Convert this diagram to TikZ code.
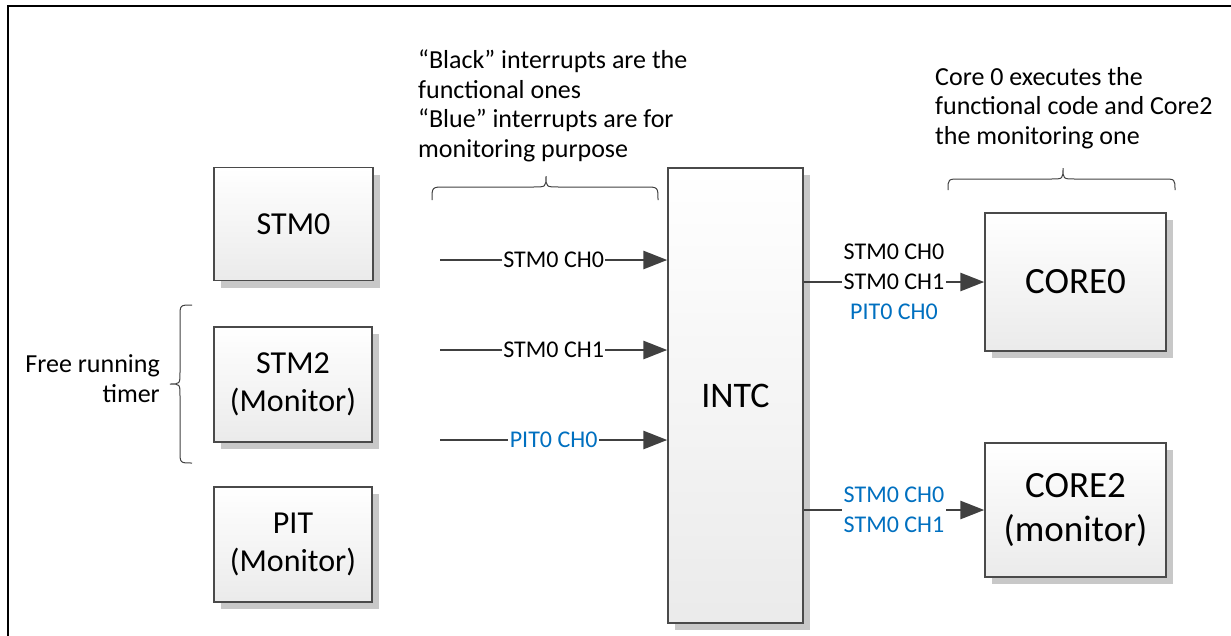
\documentclass[tikz,border=0pt]{standalone}
\usepackage{fontspec}
\setmainfont{Carlito}
\usetikzlibrary{arrows.meta,shadows}
\definecolor{lineg}{HTML}{404040}
\definecolor{boxb}{HTML}{4A4A4A}
\definecolor{blu}{HTML}{0070C0}
\definecolor{shad}{HTML}{C8C8C8}
\tikzset{
  blk/.style={draw=boxb, line width=1.4pt, top color=white, bottom color=black!8,
    inner sep=0pt, align=center,
    drop shadow={shadow xshift=7pt, shadow yshift=-7pt, fill=shad, opacity=1}},
  arr/.style={draw=lineg, line width=2.8pt, -{Triangle[length=24pt,width=18pt]}},
  lbl/.style={fill=white, inner sep=1.5pt, font=\fontsize{24}{30}\selectfont, align=center},
  desc/.style={inner sep=0pt, font=\fontsize{26}{29.5}\selectfont},
  brace/.style={draw=lineg, line width=1pt}
}
\begin{document}
\begin{tikzpicture}[x=1pt,y=-1pt]
\useasboundingbox (0,0) rectangle (1231,635);
% frame
\draw[line width=2pt] (1231,6) -- (7.5,6) -- (7.5,636);
% blocks
\node[blk, minimum width=159pt, minimum height=113pt, font=\fontsize{32}{38}\selectfont] (stm0) at (293.5,224) {STM0};
\node[blk, minimum width=158pt, minimum height=115pt, font=\fontsize{32}{38}\selectfont] (stm2) at (293,384.5) {STM2\\(Monitor)};
\node[blk, minimum width=158pt, minimum height=115pt, font=\fontsize{32}{38}\selectfont] (pit) at (293,544.5) {PIT\\(Monitor)};
\node[blk, minimum width=135pt, minimum height=455pt, font=\fontsize{36}{42}\selectfont] (intc) at (735.5,395.5) {INTC};
\node[blk, minimum width=181pt, minimum height=138pt, font=\fontsize{37}{44}\selectfont] (core0) at (1075.5,282) {CORE0};
\node[blk, minimum width=181pt, minimum height=134pt, font=\fontsize{37}{44}\selectfont] (core2) at (1075.5,510) {CORE2\\(monitor)};
% input arrows
\coordinate (in0) at (440,260);
\coordinate (in1) at (440,350);
\coordinate (in2) at (440,440);
\draw[arr] (in0) -- node[lbl] (l0) {STM0 CH0} (intc.west |- in0);
\draw[arr] (in1) -- node[lbl] (l1) {STM0 CH1} (intc.west |- in1);
\draw[arr] (in2) -- node[lbl, text=blu] (l2) {PIT0 CH0} (intc.west |- in2);
% output arrows
\draw[arr] (intc.east |- core0.west) -- node[lbl] (l3) {STM0 CH0\\STM0 CH1\\\textcolor{blu}{PIT0 CH0}} (core0.west);
\draw[arr] (intc.east |- core2.west) -- node[lbl, text=blu] (l4) {STM0 CH0\\STM0 CH1} (core2.west);
% braces
\draw[brace] (432,200) .. controls (432,187) .. (445,187) -- (533,187) .. controls (546,187) .. (546,176)
  .. controls (546,187) .. (559,187) -- (645,187) .. controls (658,187) .. (658,200);
\draw[brace] (948,190) .. controls (948,179) .. (960,179) -- (1051,179) .. controls (1063,179) .. (1063,168)
  .. controls (1063,179) .. (1075,179) -- (1163,179) .. controls (1175,179) .. (1175,190);
\draw[brace] (192,305) .. controls (180,305) .. (180,317) -- (180,372) .. controls (180,384) .. (170,384)
  .. controls (180,384) .. (180,396) -- (180,451) .. controls (180,463) .. (192,463);
% texts (base anchor = last line's baseline)
\node[desc, anchor=base west, align=left] (d1) at (418,157) {“Black” interrupts are the\\functional ones\\“Blue” interrupts are for\\monitoring purpose};
\node[desc, anchor=base west, align=left] (d2) at (935,144) {Core 0 executes the\\functional code and Core2\\the monitoring one};
\node[desc, anchor=base east, align=right] (d3) at (160,402) {Free running\\timer};
\end{tikzpicture}
\end{document}
